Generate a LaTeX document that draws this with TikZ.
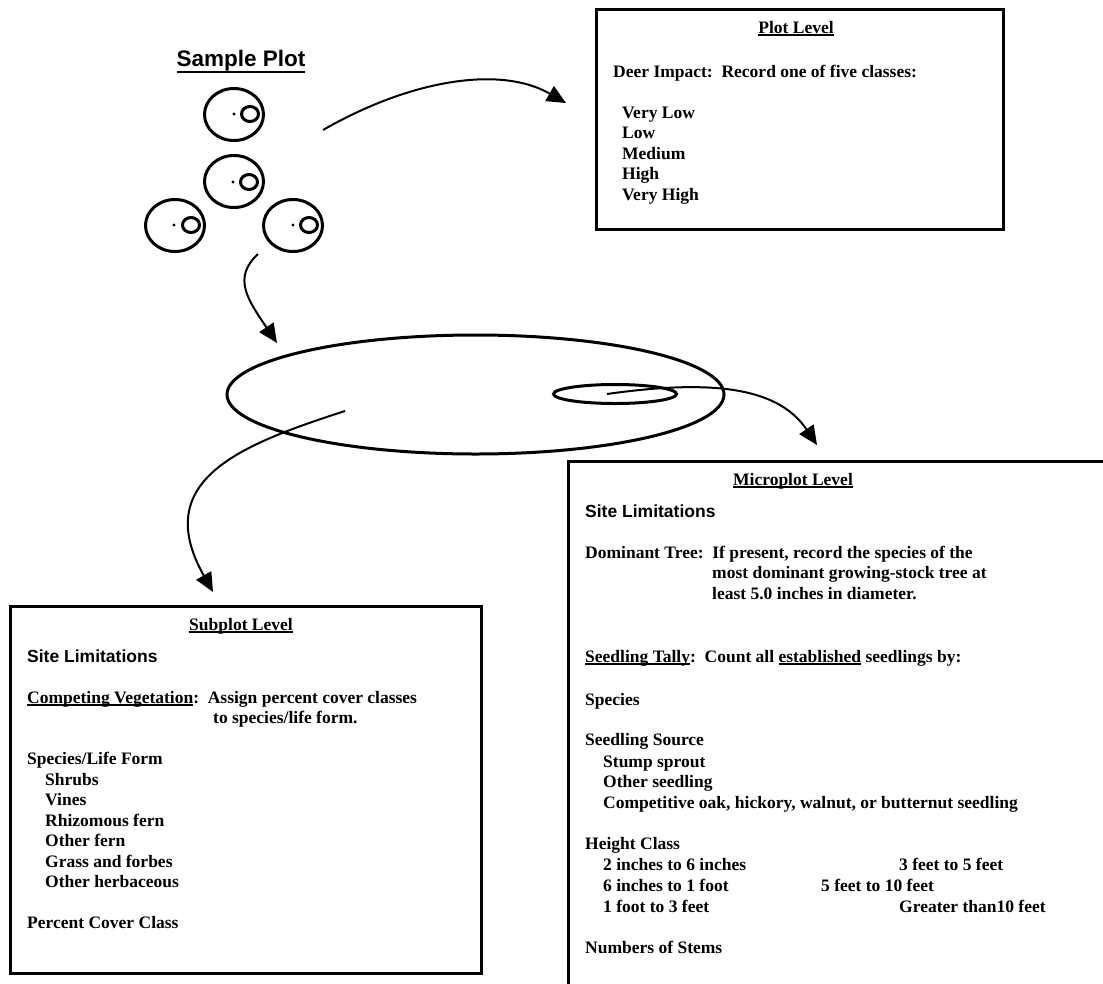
\documentclass[tikz,border=0pt]{standalone}
\usepackage{fontspec}
\setmainfont{Liberation Serif}
\setsansfont{Liberation Sans}
\usetikzlibrary{arrows.meta,shapes.geometric}
\newlength\ulw
\newcommand\ulg[3]{\settowidth\ulw{#3}\rlap{\rule[-#1]{\ulw}{#2}}#3}
\newcommand\ulx[1]{\ulg{2.6pt}{1.3pt}{#1}}
\newcommand\fsz{\fontsize{17.5pt}{20.5pt}\selectfont}
\begin{document}
\begin{tikzpicture}[x=1pt,y=-1pt,
  txt/.style={anchor=base west,inner sep=0pt,font=\fsz\bfseries},
  ttl/.style={anchor=base,inner sep=0pt,font=\fsz\bfseries},
  stxt/.style={anchor=base west,inner sep=0pt,font=\fsz\sffamily\bfseries},
  box/.style={draw,line width=2.5pt,anchor=north west,inner sep=0pt},
  conn/.style={line width=2pt,-{Triangle[length=19pt,width=17pt]}},
  plotc/.style={ellipse,draw,line width=3pt,minimum width=59pt,minimum height=52pt,inner sep=0pt},
  innerc/.style={ellipse,draw,line width=3pt,minimum width=17pt,minimum height=15pt,inner sep=0pt},
  oval/.style={ellipse,draw,line width=3pt,inner sep=0pt}
]
\useasboundingbox (0,0) rectangle (1103,983);
\clip (0,0) rectangle (1103,983);

% Sample plot
\node[anchor=base,inner sep=0pt,font=\fontsize{22.5pt}{26pt}\sffamily\bfseries] (sp) at (241,66) {\ulg{7pt}{2.5pt}{Sample Plot}};
\node[plotc] (c1) at (234,114.5) {};
\node[innerc] (c1i) at (250,114) {};
\fill (234,114) circle (1.7pt);
\node[plotc] (c2) at (234,181.5) {};
\node[innerc] (c2i) at (249,182) {};
\fill (233,182) circle (1.7pt);
\node[plotc] (c3) at (175,225.5) {};
\node[innerc] (c3i) at (191,225) {};
\fill (174,225) circle (1.7pt);
\node[plotc] (c4) at (293,225.5) {};
\node[innerc] (c4i) at (309,225) {};
\fill (293,225) circle (1.7pt);

% ellipses
\node[oval,minimum width=497pt,minimum height=119pt] (big) at (475.5,394.5) {};
\node[oval,minimum width=123pt,minimum height=19pt] (small) at (615,394) {};

% Plot level box
\node[box,minimum width=407pt,minimum height=220pt] (plotbox) at (595,8) {};
\node[ttl] (pt) at (796,33) {\ulx{Plot Level}};
\node[txt] (p1) at (613,77) {Deer Impact:\ \ Record one of five classes:};
\node[txt] (p2) at (622,118) {Very Low};
\node[txt] (p3) at (622,138.5) {Low};
\node[txt] (p4) at (622,159) {Medium};
\node[txt] (p5) at (622,179.5) {High};
\node[txt] (p6) at (622,200) {Very High};

% Microplot box
\node[box,minimum width=560pt,minimum height=560pt] (microbox) at (567,460) {};
\node[ttl] (mt) at (793,485) {\ulx{Microplot Level}};
\node[stxt] (m1) at (585,517) {Site Limitations};
\node[txt] (m2) at (585,558) {Dominant Tree:\ \ If present, record the species of the};
\node[txt] (m3) at (712,578.5) {most dominant growing-stock tree at};
\node[txt] (m4) at (712,599) {least 5.0 inches in diameter.};
\node[txt] (m5) at (585,662) {\ulx{Seedling Tally}:\ \ Count all \ulx{established} seedlings by:};
\node[txt] (m6) at (585,705) {Species};
\node[txt] (m7) at (585,745) {Seedling Source};
\node[txt] (m8) at (603,767) {Stump sprout};
\node[txt] (m9) at (603,787.5) {Other seedling};
\node[txt] (m10) at (603,808) {Competitive oak, hickory, walnut, or butternut seedling};
\node[txt] (m11) at (585,849) {Height Class};
\node[txt] (m12) at (603,870) {2 inches to 6 inches};
\node[txt] (m13) at (899,870) {3 feet to 5 feet};
\node[txt] (m14) at (603,891) {6 inches to 1 foot};
\node[txt] (m15) at (821,891) {5 feet to 10 feet};
\node[txt] (m16) at (603,912) {1 foot to 3 feet};
\node[txt] (m17) at (899,912) {Greater than10 feet};
\node[txt] (m18) at (585,953) {Numbers of Stems};

% Subplot box
\node[box,minimum width=471pt,minimum height=367pt] (subbox) at (9,605) {};
\node[ttl] (st) at (241,630) {\ulx{Subplot Level}};
\node[stxt] (s1) at (27,662) {Site Limitations};
\node[txt] (s2) at (27,703) {\ulx{Competing Vegetation}:\ \ Assign percent cover classes};
\node[txt] (s3) at (213,723.5) {to species/life form.};
\node[txt] (s4) at (27,764.5) {Species/Life Form};
\node[txt] (s5) at (45,785) {Shrubs};
\node[txt] (s6) at (45,805.5) {Vines};
\node[txt] (s7) at (45,826) {Rhizomous fern};
\node[txt] (s8) at (45,846.5) {Other fern};
\node[txt] (s9) at (45,867) {Grass and forbes};
\node[txt] (s10) at (45,887.5) {Other herbaceous};
\node[txt] (s11) at (27,928.5) {Percent Cover Class};

% connectors
\coordinate (a1s) at (323,130);
\coordinate (a1e) at (566,103);
\draw[conn] (a1s) .. controls (410,80) and (500,65) .. (a1e);
\coordinate (a2s) at (258,254);
\coordinate (a2e) at (277,343);
\draw[conn] (a2s) .. controls (232,278) and (248,300) .. (a2e);
\coordinate (a3s) at (607,394);
\coordinate (a3e) at (817,445);
\draw[conn] (a3s) .. controls (720,378) and (780,390) .. (a3e);
\coordinate (a4s) at (345,411);
\coordinate (a4e) at (213,592);
\draw[conn] (a4s) .. controls (240,445) and (150,480) .. (a4e);
\end{tikzpicture}
\end{document}
